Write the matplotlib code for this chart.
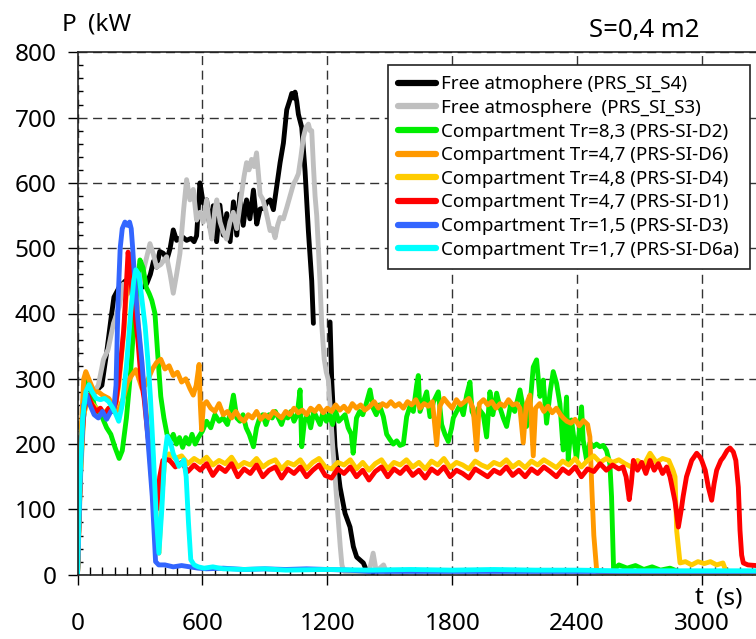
import numpy as np
import matplotlib
matplotlib.use("Agg")
import matplotlib.pyplot as plt
from matplotlib.ticker import MultipleLocator

plt.rcParams['font.family'] = ['Noto Sans', 'DejaVu Sans']

# ---------------- data (t in s, P in kW) ----------------
t_s4 = [0, 10, 25, 40, 60, 80, 100, 117, 140, 160, 175, 200, 230, 260, 290, 310, 333, 350, 365, 380,
        395, 413, 429, 445, 460, 476, 490, 505, 524, 545, 560, 572, 588, 604, 620, 636, 652, 668, 684,
        700, 717, 733, 749, 765, 780, 796, 812, 828, 845, 861, 877, 893, 909, 925, 941, 957, 973, 989,
        1005, 1021, 1029, 1037, 1045, 1053, 1061, 1077, 1093, 1109, 1125, 1133, 1170, 1213, 1221, 1237,
        1261, 1285, 1309, 1325, 1341, 1373, 1390, 1420]
p_s4 = [0, 120, 230, 270, 285, 280, 285, 290, 340, 390, 425, 440, 450, 440, 445, 440, 446, 460, 480, 471,
        495, 492, 482, 500, 528, 512, 515, 517, 512, 515, 510, 519, 600, 569, 574, 532, 565, 510, 566,
        520, 553, 510, 571, 520, 583, 535, 574, 545, 589, 537, 560, 561, 570, 574, 559, 595, 631, 661,
        712, 728, 737, 730, 739, 725, 705, 685, 618, 526, 450, 385, np.nan, 387, 298, 196,
        134, 94, 73, 43, 27, 18, 5, 3]

t_s3 = [0, 15, 30, 50, 80, 100, 125, 147, 173, 200, 220, 240, 260, 285, 300, 320, 348, 365, 380, 400,
        428, 445, 460, 476, 492, 510, 524, 540, 556, 572, 588, 604, 620, 636, 645, 660, 669, 685, 700,
        716, 732, 748, 765, 789, 800, 812, 824, 836, 848, 860, 870, 877, 890, 901, 913, 925, 937, 949,
        961, 973, 989, 1005, 1021, 1037, 1049, 1061, 1073, 1085, 1097, 1109, 1117, 1125, 1133, 1141,
        1149, 1157, 1165, 1173, 1185, 1195, 1205, 1215, 1225, 1237, 1250, 1262, 1270, 1280, 1300,
        1400, 1420, 1435, 1470, 1485]
p_s3 = [0, 150, 245, 275, 280, 290, 330, 345, 385, 410, 445, 430, 440, 400, 441, 470, 507, 490, 471, 475,
        487, 460, 431, 460, 492, 560, 605, 574, 590, 543, 555, 540, 574, 530, 514, 560, 574, 540, 525,
        514, 540, 555, 530, 586, 610, 631, 620, 636, 625, 646, 610, 582, 575, 562, 545, 527, 530, 516,
        535, 547, 545, 562, 580, 598, 605, 614, 640, 670, 685, 690, 680, 680, 627, 580,
        550, 500, 447, 383, 330, 310, 298, 250, 200, 150, 94, 43, 15, 5, 3,
        3, 33, 5, 15, 3]

t_d2 = [0, 15, 30, 45, 60, 80, 100, 120, 140, 160, 180, 200, 215, 235, 255, 270, 285, 300, 315, 330,
        345, 357, 372, 385, 400, 415, 430, 445, 460, 475, 490, 505, 520, 535, 550, 565, 580, 600, 620,
        640, 660, 680, 700, 720, 735, 749, 765, 780, 795, 810, 825, 845, 860, 875, 890, 905, 920, 935,
        950, 965, 980, 995, 1010, 1025, 1040, 1055, 1069, 1077, 1090, 1105, 1120, 1135, 1150, 1165,
        1180, 1195, 1210, 1225, 1240, 1255, 1270, 1285, 1300, 1315, 1324, 1340, 1355, 1370, 1385, 1405,
        1420, 1435, 1450, 1469, 1485, 1501, 1517, 1533, 1549, 1565, 1581, 1597, 1613, 1629, 1637, 1645,
        1661, 1677, 1693, 1710, 1733, 1749, 1765, 1781, 1797, 1805, 1821, 1837, 1853, 1869, 1885, 1895,
        1910, 1925, 1949, 1965, 1981, 1995, 2013, 2030, 2045, 2061, 2080, 2100, 2125, 2141, 2157, 2175,
        2189, 2205, 2221, 2237, 2253, 2270, 2285, 2301, 2317, 2333, 2349, 2357, 2373, 2397, 2421, 2429,
        2445, 2461, 2477, 2493, 2509, 2525, 2541, 2557, 2565, 2575, 2600, 2640, 2680, 2720, 2760, 2800,
        2846, 2900, 3000, 3260]
p_d2 = [0, 180, 280, 303, 290, 260, 250, 240, 225, 215, 195, 178, 190, 240, 310, 380, 440, 482, 470, 440,
        430, 420, 400, 339, 273, 240, 215, 205, 215, 200, 210, 195, 210, 200, 215, 200, 210, 220, 235,
        225, 245, 235, 240, 230, 250, 275, 240, 235, 245, 225, 215, 196, 225, 240, 245, 230, 245, 240,
        250, 240, 230, 245, 240, 250, 235, 245, 283, 196, 235, 245, 225, 250, 240, 230,
        250, 235, 245, 230, 250, 235, 240, 245, 225, 215, 186, 240, 250, 245, 260, 283,
        255, 245, 260, 242, 215, 207, 200, 205, 198, 200, 242, 258, 250, 290, 305, 250,
        265, 280, 242, 265, 280, 230, 215, 204, 225, 240, 250, 260, 245, 275, 295, 250,
        240, 255, 245, 211, 280, 245, 278, 255, 240, 227, 260, 250, 283, 255, 227, 265,
        318, 329, 273, 298, 232, 280, 311, 293, 262, 191, 272, 176, 237, 176, 257, 206,
        176, 202, 196, 200, 196, 198, 190, 170, 120, 7, 15, 10, 14, 8, 12, 7,
        10, 3, 2, 2]

t_d6 = [0, 15, 30, 40, 60, 80, 100, 120, 150, 170, 185, 200, 220, 240, 260, 280, 295, 310, 325, 340,
        360, 380, 400, 420, 440, 460, 480, 500, 520, 540, 556, 570, 584, 590, 596, 605, 620, 640, 660,
        680, 700, 720, 740, 760, 780, 800, 820, 840, 860, 880, 900, 920, 940, 960, 980, 1000, 1020,
        1040, 1060, 1080, 1100, 1120, 1140, 1160, 1180, 1200, 1220, 1240, 1260, 1280, 1300, 1320, 1340,
        1360, 1380, 1405, 1425, 1445, 1465, 1485, 1505, 1525, 1545, 1565, 1585, 1605, 1625, 1645, 1665,
        1685, 1705, 1725, 1740, 1760, 1780, 1800, 1820, 1840, 1860, 1880, 1900, 1917, 1930, 1950, 1970,
        1990, 2010, 2030, 2050, 2070, 2090, 2110, 2125, 2141, 2155, 2173, 2189, 2200, 2220, 2240, 2260,
        2280, 2300, 2320, 2333, 2350, 2370, 2390, 2410, 2430, 2450, 2461, 2470, 2480, 2494, 2520, 2700,
        3000, 3260]
p_d6 = [0, 200, 300, 311, 295, 280, 280, 275, 270, 260, 250, 255, 270, 295, 305, 314, 300, 285, 290, 300,
        315, 325, 330, 315, 320, 305, 310, 295, 300, 285, 275, 290, 322, 260, 222, 260, 265, 255, 250,
        262, 245, 250, 240, 250, 240, 235, 245, 240, 250, 238, 245, 240, 250, 245, 240, 250, 245,
        255, 248, 252, 245, 255, 250, 258, 248, 255, 250, 260, 252, 258, 250, 262, 255,
        260, 252, 258, 265, 255, 262, 258, 265, 258, 262, 255, 265, 260, 268, 255, 262,
        258, 265, 199, 258, 270, 262, 255, 268, 260, 265, 270, 255, 191, 262, 268, 260,
        265, 255, 262, 258, 268, 260, 262, 255, 202, 260, 275, 182, 255, 262, 250, 258,
        248, 255, 245, 240, 235, 232, 238, 228, 236, 230, 211, 135, 60, 5, 3, 3,
        2, 2]

t_d4 = [0, 15, 30, 50, 70, 90, 110, 130, 150, 170, 185, 198, 210, 222, 243, 260, 285, 305, 330, 350,
        367, 380, 391, 405, 420, 440, 470, 500, 530, 560, 590, 620, 650, 680, 710, 740, 770, 800, 830,
        860, 890, 920, 950, 980, 1010, 1040, 1070, 1100, 1130, 1160, 1190, 1220, 1250, 1280, 1310, 1340,
        1370, 1400, 1430, 1460, 1490, 1520, 1550, 1580, 1610, 1640, 1670, 1700, 1730, 1760, 1790, 1820,
        1850, 1880, 1910, 1940, 1970, 2000, 2030, 2060, 2090, 2120, 2150, 2180, 2210, 2240, 2270, 2300,
        2330, 2360, 2390, 2420, 2450, 2480, 2510, 2540, 2570, 2600, 2630, 2660, 2690, 2720, 2750, 2780,
        2810, 2840, 2860, 2870, 2878, 2894, 2920, 2950, 2980, 3010, 3040, 3070, 3100, 3115, 3260]
p_d4 = [0, 160, 245, 270, 262, 255, 250, 248, 255, 250, 262, 290, 330, 370, 470, 480, 410, 330, 250, 170,
        100, 50, 33, 120, 180, 185, 178, 182, 170, 178, 172, 180, 168, 175, 170, 180, 165, 172, 168,
        178, 165, 172, 176, 162, 172, 168, 176, 162, 172, 178, 165, 162, 172, 168, 176, 162,
        172, 160, 170, 176, 162, 172, 168, 176, 165, 172, 162, 174, 168, 178, 164, 172,
        168, 162, 174, 168, 164, 172, 168, 176, 165, 172, 164, 174, 168, 176, 170, 164,
        174, 168, 178, 165, 175, 182, 172, 178, 172, 176, 170, 165, 175, 168, 186, 172,
        178, 175, 160, 150, 67, 18, 20, 15, 20, 17, 20, 15, 18, 5, 4]

t_d1 = [0, 15, 30, 50, 70, 90, 110, 130, 150, 170, 185, 198, 210, 222, 234, 243, 252, 262, 275, 290,
        305, 320, 335, 350, 367, 380, 395, 410, 431, 440, 470, 500, 530, 560, 590, 620, 650, 680, 710,
        740, 770, 800, 830, 860, 890, 920, 950, 980, 1010, 1040, 1070, 1100, 1130, 1160, 1190, 1220,
        1250, 1280, 1310, 1340, 1370, 1400, 1430, 1460, 1490, 1520, 1550, 1580, 1610, 1640, 1670, 1700,
        1730, 1760, 1790, 1820, 1850, 1880, 1910, 1940, 1970, 2000, 2030, 2060, 2090, 2120, 2150, 2180,
        2210, 2240, 2270, 2300, 2330, 2360, 2390, 2420, 2450, 2480, 2510, 2540, 2570, 2600, 2620, 2635,
        2650, 2660, 2670, 2690, 2710, 2730, 2750, 2770, 2790, 2810, 2830, 2846, 2870, 2886, 2900, 2909,
        2925, 2950, 2974, 2990, 2998, 3015, 3030, 3046, 3058, 3070, 3090, 3102, 3120, 3134, 3150, 3162,
        3174, 3182, 3190, 3198, 3220, 3260]
p_d1 = [0, 170, 250, 275, 260, 250, 255, 245, 255, 250, 265, 298, 335, 375, 440, 494, 470, 430, 400, 360,
        300, 270, 222, 180, 145, 100, 150, 175, 176, 176, 165, 172, 158, 168, 160, 170, 152, 165, 158,
        170, 150, 162, 155, 168, 150, 160, 165, 148, 162, 155, 165, 150, 160, 168, 152, 148,
        162, 155, 165, 150, 160, 145, 158, 165, 150, 162, 155, 165, 152, 160, 148, 162,
        155, 165, 150, 160, 155, 148, 162, 156, 150, 160, 155, 165, 152, 160, 150, 162,
        155, 165, 158, 150, 162, 155, 165, 150, 162, 158, 170, 160, 168, 162, 165, 150,
        115, 140, 175, 160, 172, 155, 175, 160, 170, 155, 165, 150, 112, 73, 100, 120,
        150, 175, 186, 180, 175, 160, 134, 114, 140, 160, 175, 180, 190, 194, 188, 175,
        134, 68, 30, 18, 15, 14]

t_d3 = [0, 15, 30, 45, 60, 80, 100, 120, 140, 160, 175, 185, 195, 205, 215, 228, 240, 250, 258, 265,
        275, 290, 310, 335, 359, 375, 390, 420, 460, 500, 540, 580, 620, 700, 800, 900, 1000, 1100,
        1200, 1300, 1400, 3260]
p_d3 = [0, 170, 260, 275, 260, 245, 240, 250, 238, 250, 255, 290, 420, 500, 530, 540, 535, 540, 530, 500,
        450, 390, 324, 220, 120, 20, 15, 15, 12, 14, 12, 10, 9, 10, 8, 9, 8, 9,
        8, 7, 5, 5]

t_d6a = [0, 10, 25, 40, 55, 70, 90, 110, 130, 150, 170, 185, 198, 215, 235, 255, 270, 280, 295, 310,
         325, 340, 350, 365, 378, 391, 405, 418, 431, 447, 460, 475, 487, 500, 511, 522, 533, 544, 560,
         580, 608, 650, 700, 800, 900, 1000, 1200, 1400, 1600, 1800, 2000, 2200, 2400, 2600, 2800,
         3000, 3260]
p_d6a = [0, 130, 240, 280, 291, 280, 270, 268, 270, 265, 255, 245, 235, 260, 320, 400, 450, 467, 460, 420,
         380, 320, 273, 180, 90, 33, 100, 180, 212, 202, 185, 175, 166, 170, 176, 150, 80, 23, 15,
         12, 10, 12, 9, 8, 9, 7, 8, 7, 8, 7, 8, 7, 7, 6, 6,
         6, 6]

series = [
    (t_s4, p_s4, '#000000', 'Free atmophere (PRS_SI_S4)'),
    (t_s3, p_s3, '#bfbfbf', 'Free atmosphere  (PRS_SI_S3)'),
    (t_d2, p_d2, '#00ee00', 'Compartment Tr=8,3 (PRS-SI-D2)'),
    (t_d6, p_d6, '#ff9900', 'Compartment Tr=4,7 (PRS-SI-D6)'),
    (t_d4, p_d4, '#ffcc00', 'Compartment Tr=4,8 (PRS-SI-D4)'),
    (t_d1, p_d1, '#ff0000', 'Compartment Tr=4,7 (PRS-SI-D1)'),
    (t_d3, p_d3, '#3366ff', 'Compartment Tr=1,5 (PRS-SI-D3)'),
    (t_d6a, p_d6a, '#00ffff', 'Compartment Tr=1,7 (PRS-SI-D6a)'),
]

x_ticks = [0, 600, 1200, 1800, 2400, 3000]
y_ticks = [0, 100, 200, 300, 400, 500, 600, 700, 800]

# ---------------- figure ----------------
W, H = 756, 639
fig = plt.figure(figsize=(W / 100, H / 100), dpi=100)
x0, x_per_s = 77.5, 0.2082
xmax = 3300
y0px, ytop = 574.7, 52.3
ax = fig.add_axes([x0 / W, (H - y0px) / H, (xmax * x_per_s) / W, (y0px - ytop) / H])
ax.set_xlim(0, xmax)
ax.set_ylim(0, 800)

for t, p, c, lab in series:
    ax.plot(t, p, color=c, lw=3.5, label=lab, solid_joinstyle='round', solid_capstyle='round')

ax.set_xticks(x_ticks)
ax.set_yticks(y_ticks)
ax.xaxis.set_minor_locator(MultipleLocator(60))
ax.yaxis.set_minor_locator(MultipleLocator(20))
ax.tick_params(axis='x', which='major', direction='out', length=7, width=1, pad=19.5, labelsize=17.5)
ax.tick_params(axis='y', which='major', direction='out', length=7, width=1, pad=8, labelsize=17.5)
ax.tick_params(axis='x', which='minor', direction='in', length=6, width=1)
ax.tick_params(axis='y', which='minor', direction='in', length=3.5, width=1)
ax.grid(which='major', color='#333333', linestyle=(0, (6.5, 4)), lw=1.0)
for s in ['left', 'bottom', 'top']:
    ax.spines[s].set_linewidth(1.2)
    ax.spines[s].set_color('#222222')
ax.spines['right'].set_visible(False)

fig.text(62 / W, 1 - 25 / H, 'P', fontsize=17.5, va='center', ha='left')
fig.text(88 / W, 1 - 25 / H, '(kW', fontsize=17.5, va='center', ha='left')
fig.text(589 / W, 1 - 30 / H, 'S=0,4 m2', fontsize=18.5, va='center', ha='left')
fig.text(695 / W, 1 - 598 / H, 't', fontsize=17.5, va='center', ha='left')
fig.text(716 / W, 1 - 598 / H, '(s)', fontsize=17.5, va='center', ha='left')

leg = ax.legend(loc='upper left', bbox_to_anchor=(388 / W, 1 - 65 / H), bbox_transform=fig.transFigure,
                fontsize=13.5, frameon=True, fancybox=False, framealpha=1, edgecolor='#222222',
                handlelength=2.0, handletextpad=0.3, borderpad=0.55, labelspacing=0.3,
                borderaxespad=0)
leg.get_frame().set_linewidth(1.2)
for l in leg.get_lines():
    l.set_linewidth(4.5)

fig.savefig('out.png', dpi=100)
